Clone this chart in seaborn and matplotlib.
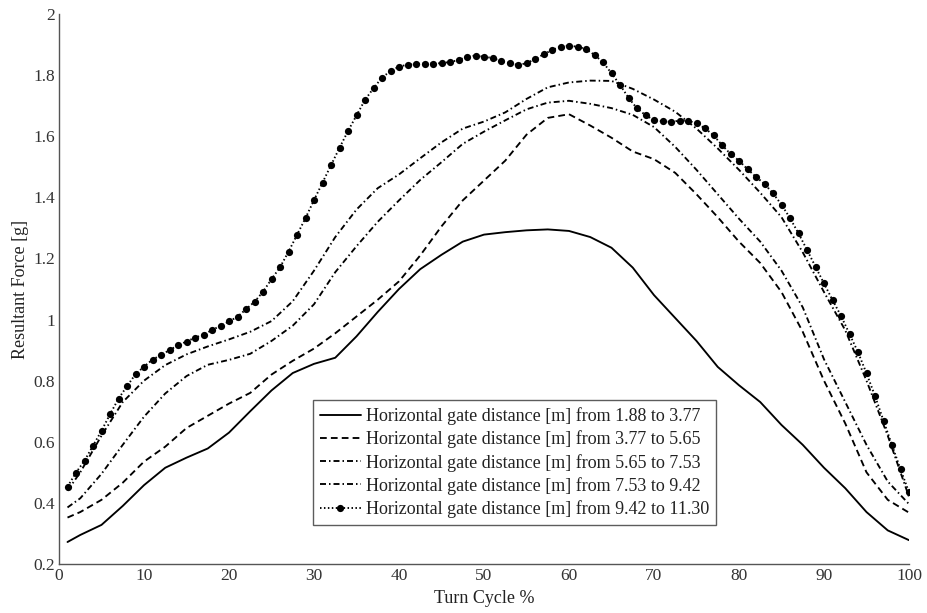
import numpy as np
import pandas as pd
import matplotlib
matplotlib.use("Agg")
import matplotlib.pyplot as plt
import seaborn as sns

# ---- data -----------------------------------------------------------------
x_grid = [1, 2.5, 5, 7.5, 10, 12.5, 15, 17.5, 20, 22.5, 25, 27.5, 30, 32.5, 35,
          37.5, 40, 42.5, 45, 47.5, 50, 52.5, 55, 57.5, 60, 62.5, 65, 67.5, 70,
          72.5, 75, 77.5, 80, 82.5, 85, 87.5, 90, 92.5, 95, 97.5, 100]

s1 = [0.272, 0.295, 0.328, 0.390, 0.458, 0.515, 0.548, 0.578, 0.630, 0.700, 0.768,
      0.825, 0.855, 0.875, 0.945, 1.025, 1.100, 1.165, 1.212, 1.255, 1.278, 1.286,
      1.292, 1.295, 1.290, 1.270, 1.235, 1.170, 1.080, 1.005, 0.930, 0.845, 0.785,
      0.730, 0.655, 0.590, 0.515, 0.448, 0.370, 0.310, 0.278]

s2 = [0.352, 0.370, 0.410, 0.466, 0.535, 0.584, 0.645, 0.685, 0.725, 0.760, 0.820,
      0.865, 0.905, 0.955, 1.010, 1.065, 1.125, 1.210, 1.305, 1.390, 1.455, 1.520,
      1.605, 1.660, 1.672, 1.635, 1.595, 1.550, 1.525, 1.480, 1.410, 1.335, 1.255,
      1.185, 1.090, 0.960, 0.800, 0.660, 0.500, 0.410, 0.368]

s3 = [0.385, 0.415, 0.495, 0.590, 0.682, 0.758, 0.815, 0.852, 0.868, 0.888, 0.930,
      0.980, 1.050, 1.155, 1.240, 1.320, 1.390, 1.457, 1.515, 1.575, 1.615, 1.652,
      1.688, 1.710, 1.716, 1.706, 1.692, 1.670, 1.630, 1.565, 1.490, 1.410, 1.330,
      1.255, 1.160, 1.040, 0.870, 0.730, 0.590, 0.470, 0.396]

s4 = [0.440, 0.500, 0.620, 0.730, 0.800, 0.851, 0.886, 0.912, 0.935, 0.960, 0.995,
      1.060, 1.160, 1.270, 1.360, 1.430, 1.475, 1.528, 1.580, 1.625, 1.648, 1.678,
      1.722, 1.760, 1.776, 1.782, 1.781, 1.755, 1.720, 1.680, 1.625, 1.560, 1.490,
      1.415, 1.335, 1.220, 1.090, 0.965, 0.800, 0.620, 0.420]

x_dot = list(range(1, 101))
s5 = [0.453, 0.499, 0.538, 0.587, 0.636, 0.690, 0.741, 0.782, 0.821, 0.846,
      0.869, 0.884, 0.900, 0.916, 0.928, 0.941, 0.950, 0.966, 0.979, 0.994,
      1.009, 1.034, 1.058, 1.091, 1.132, 1.171, 1.222, 1.277, 1.332, 1.391,
      1.448, 1.505, 1.562, 1.617, 1.668, 1.719, 1.757, 1.792, 1.813, 1.828,
      1.834, 1.836, 1.838, 1.838, 1.839, 1.843, 1.849, 1.860, 1.864, 1.860,
      1.856, 1.846, 1.839, 1.833, 1.839, 1.852, 1.868, 1.882, 1.893, 1.896,
      1.893, 1.885, 1.866, 1.842, 1.806, 1.768, 1.726, 1.691, 1.669, 1.653,
      1.649, 1.647, 1.651, 1.651, 1.642, 1.626, 1.603, 1.571, 1.542, 1.520,
      1.492, 1.467, 1.444, 1.413, 1.376, 1.332, 1.282, 1.228, 1.173, 1.118,
      1.064, 1.012, 0.953, 0.893, 0.824, 0.750, 0.669, 0.589, 0.510, 0.435]

labels = ["Horizontal gate distance [m] from 1.88 to 3.77",
          "Horizontal gate distance [m] from 3.77 to 5.65",
          "Horizontal gate distance [m] from 5.65 to 7.53",
          "Horizontal gate distance [m] from 7.53 to 9.42",
          "Horizontal gate distance [m] from 9.42 to 11.30"]

x_ticks = [0, 10, 20, 30, 40, 50, 60, 70, 80, 90, 100]
y_ticks = [0.2, 0.4, 0.6, 0.8, 1.0, 1.2, 1.4, 1.6, 1.8, 2.0]
y_ticklabels = ["0.2", "0.4", "0.6", "0.8", "1", "1.2", "1.4", "1.6", "1.8", "2"]

# ---- style ----------------------------------------------------------------
sns.set_theme(style="white")
plt.rcParams["font.family"] = ["Liberation Serif", "DejaVu Serif"]
plt.rcParams["axes.unicode_minus"] = False

fig = plt.figure(figsize=(9.27, 6.13), dpi=100)
ax = fig.add_axes([59 / 927, 49 / 613, 850 / 927, 550 / 613])

lw = 1.35
series = [
    (x_grid, s1, dict(linestyle="-")),
    (x_grid, s2, dict(linestyle=(0, (3.6, 2.2)))),
    (x_grid, s3, dict(linestyle=(0, (3.2, 1.6, 0.8, 1.6)))),
    (x_grid, s4, dict(linestyle=(0, (3.2, 1.6, 0.8, 1.6)))),
    (x_dot, s5, dict(linestyle=(0, (0.8, 1.3)), marker="o", markersize=5.2,
                     markeredgewidth=0)),
]
for (xs, ys, kw), lab in zip(series, labels):
    df = pd.DataFrame({"x": xs, "y": ys})
    sns.lineplot(data=df, x="x", y="y", ax=ax, color="black", linewidth=lw,
                 label=lab, **kw)

ax.set_xlim(0, 100)
ax.set_ylim(0.2, 2.0)
ax.set_xticks(x_ticks)
ax.set_xticklabels([str(t) for t in x_ticks])
ax.set_yticks(y_ticks)
ax.set_yticklabels(y_ticklabels)
ax.set_xlabel("Turn Cycle %", fontsize=13, color="#222222", labelpad=4)
ax.set_ylabel("Resultant Force [g]", fontsize=13, color="#222222", labelpad=3)

for side in ["top", "right"]:
    ax.spines[side].set_visible(False)
for side in ["left", "bottom"]:
    ax.spines[side].set_color("#555555")
    ax.spines[side].set_linewidth(1.0)
ax.tick_params(axis="both", direction="in", length=6, width=1.0,
               color="#555555", labelsize=12.5, labelcolor="#333333", pad=3)

leg = ax.legend(loc="lower left", bbox_to_anchor=(0.2985, 0.071), fontsize=13,
                frameon=True, fancybox=False, edgecolor="#333333",
                borderaxespad=0, handlelength=2.3, handletextpad=0.25,
                labelspacing=0.3, borderpad=0.38)
leg.get_frame().set_linewidth(1.0)
for t in leg.get_texts():
    t.set_color("#222222")

fig.savefig("out.png", dpi=100)
